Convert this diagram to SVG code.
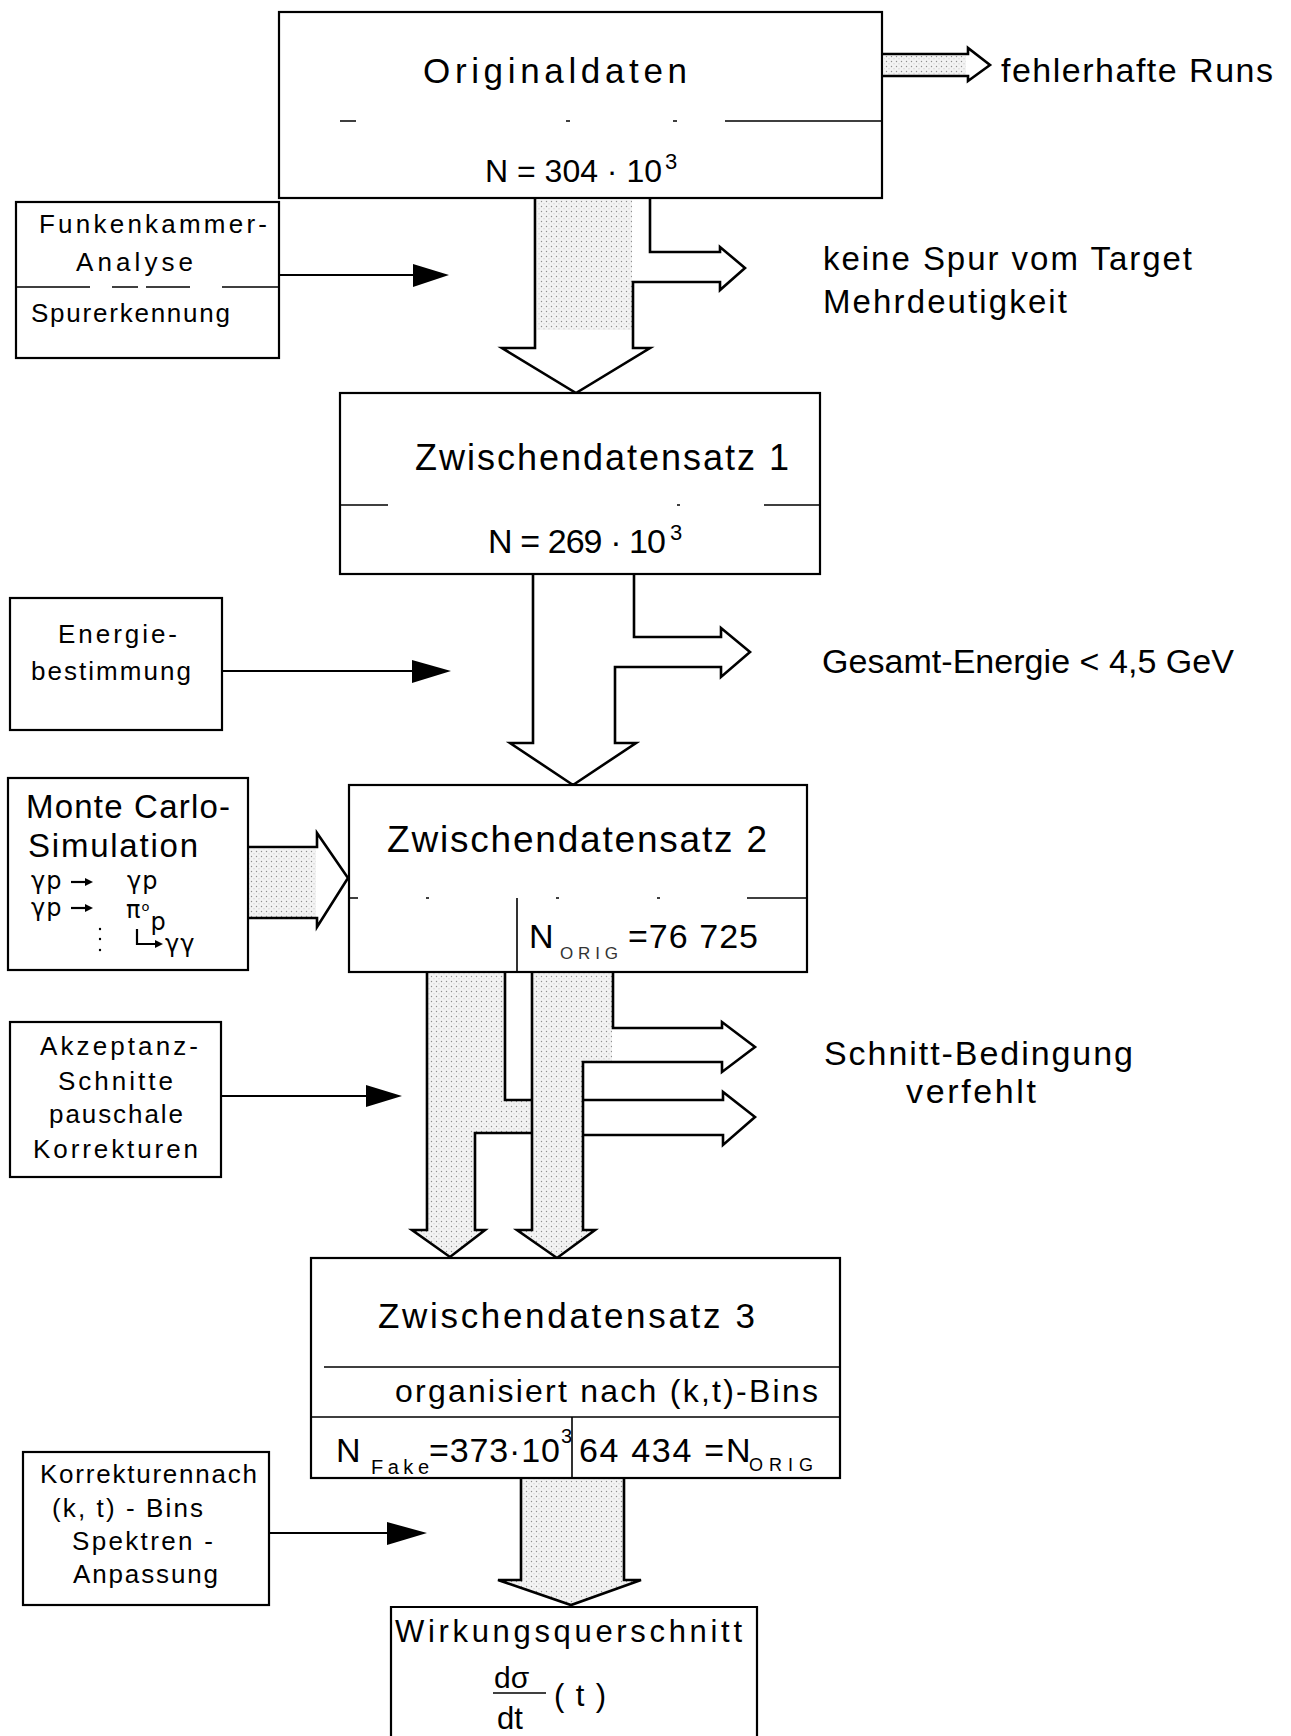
<svg xmlns="http://www.w3.org/2000/svg" width="1291" height="1736" viewBox="0 0 1291 1736">
<defs>
<pattern id="stip" width="5" height="5" patternUnits="userSpaceOnUse"><rect width="5" height="5" fill="#f3f3f3"/><circle cx="1.5" cy="1.5" r="0.7" fill="#8f8f8f"/><circle cx="4" cy="3.8" r="0.5" fill="#b5b5b5"/></pattern>
<style>
.box{fill:#fff;stroke:#000;stroke-width:2.2}
.div{stroke:#000;stroke-width:1.6;fill:none}
.ol{fill:none;stroke:#000;stroke-width:2.6;stroke-linejoin:miter}
.st{fill:url(#stip);stroke:none}
.ln{stroke:#000;stroke-width:2.2;fill:none}
.hd{fill:#000;stroke:none}
text{font-family:"Liberation Sans",Arial,sans-serif;fill:#000}
.g{font-family:"DejaVu Sans","Liberation Sans",sans-serif;font-size:24px}
.t1{font-size:34px}
.t2{font-size:26px}
.sub{fill:#333}
</style>
</defs>
<rect width="1291" height="1736" fill="#fff"/>

<g id="connectors">
  <!-- Originaldaten -> fehlerhafte Runs -->
  <rect class="st" x="884" y="56" width="82" height="19"/>
  <path class="ol" d="M883,54 H968 V48 L990,65 L968,81 V76 H883"/>
  <!-- Originaldaten -> ZDS1 with branch -->
  <rect class="st" x="537" y="200" width="95" height="130"/>
  <path class="ol" d="M535,199 V348 H502 L576,393 L650,348 H633 V282 H720 V290 L745,268 L720,247 V252 H650 V199"/>
  <!-- Funkenkammer arrow -->
  <path class="ln" d="M279,275 H414"/>
  <path class="hd" d="M413,264 L449,275 L413,287 Z"/>
  <!-- ZDS1 -> ZDS2 with branch -->
  <path class="ol" d="M533,574 V743 H510 L573,785 L636,743 H615 V667 H721 V677 L750,652 L721,628 V637 H634 V574"/>
  <!-- Energie arrow -->
  <path class="ln" d="M222,671 H413"/>
  <path class="hd" d="M412,660 L451,671 L412,683 Z"/>
  <!-- Monte Carlo -> ZDS2 -->
  <rect class="st" x="249" y="849" width="67" height="68"/>
  <path class="ol" d="M248,847 H317 V833 L348,878 L317,927 V918 H248"/>
  <!-- ZDS2 -> ZDS3 left (fake) arrow -->
  <path class="st" d="M428,973 H504 V1101 H531 V1132 H474 V1231 H484 L450,1255 L414,1231 H428 Z"/>
  <path class="ol" d="M505,972 V1100 H532 M532,1133 H475 V1230 H485 L450,1257 L412,1230 H427 V972"/>
  <!-- ZDS2 -> ZDS3 right arrow -->
  <path class="st" d="M533,973 H612 V1061 H582 V1231 H593 L557,1256 L519,1231 H533 Z"/>
  <path class="ol" d="M532,972 V1230 H517 L557,1258 L595,1230 H583 V1062 H722 V1072 L755,1047 L722,1022 V1028 H613 V972"/>
  <!-- lower branch -->
  <path class="ol" d="M583,1100 H723 V1092 L755,1117 L723,1145 V1135 H583"/>
  <!-- Akzeptanz arrow -->
  <path class="ln" d="M221,1096 H367"/>
  <path class="hd" d="M366,1085 L402,1096 L366,1107 Z"/>
  <!-- ZDS3 -> Wirkungsquerschnitt -->
  <path class="st" d="M522,1479 H623 V1581 H638 L571,1603 L501,1581 H522 Z"/>
  <path class="ol" d="M521,1478 V1580 H498 L571,1605 L641,1580 H624 V1478"/>
  <!-- Korrekturen arrow -->
  <path class="ln" d="M269,1533 H388"/>
  <path class="hd" d="M387,1522 L427,1533 L387,1545 Z"/>
</g>

<g id="originaldaten">
  <rect class="box" x="279" y="12" width="603" height="186"/>
  <path class="div" d="M340,121 H356 M566,121 H570 M673,121 H677 M725,121 H882"/>
  <text x="423" y="83" font-size="35" textLength="264" lengthAdjust="spacing">Originaldaten</text>
  <text x="485" y="182" font-size="32" textLength="177" lengthAdjust="spacing">N = 304 · 10</text>
  <text x="665" y="169" font-size="22">3</text>
</g>

<g id="fehlerhafte">
  <text class="t1" x="1001" y="82" textLength="272" lengthAdjust="spacing">fehlerhafte Runs</text>
</g>

<g id="funkenkammer">
  <rect class="box" x="16" y="202" width="263" height="156"/>
  <path class="div" d="M16,287 H90 M112,287 H138 M146,287 H190 M222,287 H279"/>
  <text class="t2" x="39" y="233" textLength="228" lengthAdjust="spacing">Funkenkammer-</text>
  <text class="t2" x="76" y="271" textLength="117" lengthAdjust="spacing">Analyse</text>
  <text class="t2" x="31" y="322" textLength="199" lengthAdjust="spacing">Spurerkennung</text>
</g>

<g id="keine-spur">
  <text x="823" y="270" font-size="33" textLength="369" lengthAdjust="spacing">keine Spur vom Target</text>
  <text x="823" y="313" font-size="33" textLength="244" lengthAdjust="spacing">Mehrdeutigkeit</text>
</g>

<g id="zds1">
  <rect class="box" x="340" y="393" width="480" height="181"/>
  <path class="div" d="M340,505 H388 M677,505 H680 M764,505 H820"/>
  <text x="415" y="470" font-size="36" textLength="374" lengthAdjust="spacing">Zwischendatensatz 1</text>
  <text x="488" y="553" font-size="34" textLength="178" lengthAdjust="spacing">N = 269 · 10</text>
  <text x="670" y="540" font-size="22">3</text>
</g>

<g id="energie">
  <rect class="box" x="10" y="598" width="212" height="132"/>
  <text class="t2" x="58" y="643" textLength="119" lengthAdjust="spacing">Energie-</text>
  <text class="t2" x="31" y="680" textLength="160" lengthAdjust="spacing">bestimmung</text>
</g>

<g id="gesamt-energie">
  <text x="822" y="673" font-size="34" textLength="412" lengthAdjust="spacing">Gesamt-Energie &lt; 4,5 GeV</text>
</g>

<g id="monte-carlo">
  <rect class="box" x="8" y="778" width="240" height="192"/>
  <text x="26" y="818" font-size="33" textLength="204" lengthAdjust="spacing">Monte Carlo-</text>
  <text x="28" y="857" font-size="33" textLength="170" lengthAdjust="spacing">Simulation</text>
  <text class="g" x="31" y="889">γ<tspan dx="1">p</tspan></text>
  <path class="ln" d="M71,882 H86" stroke-width="1.6"/>
  <path class="hd" d="M85,878 L93,882 L85,886 Z"/>
  <text class="g" x="127" y="889">γ<tspan dx="1">p</tspan></text>
  <text class="g" x="31" y="916">γ<tspan dx="1">p</tspan></text>
  <path class="ln" d="M71,908 H86" stroke-width="1.6"/>
  <path class="hd" d="M85,904 L93,908 L85,912 Z"/>
  <text class="g" x="126" y="918" font-size="20">π<tspan font-size="13" dx="1" dy="-7">o</tspan><tspan font-size="24" dx="1" dy="19">p</tspan></text>
  <path class="ln" d="M137,929 V944 H156" stroke-width="1.6"/>
  <path class="hd" d="M155,940 L163,944 L155,948 Z"/>
  <text class="g" x="165" y="952">γ<tspan dx="1">γ</tspan></text>
  <circle cx="100" cy="929" r="1.2" fill="#000"/>
  <circle cx="100" cy="939" r="1.2" fill="#000"/>
  <circle cx="100" cy="950" r="1.2" fill="#000"/>
</g>

<g id="zds2">
  <rect class="box" x="349" y="785" width="458" height="187"/>
  <path class="div" d="M349,898 H358 M426,898 H429 M556,898 H559 M657,898 H660 M747,898 H807 M517,898 V972"/>
  <text x="387" y="852" font-size="37" textLength="380" lengthAdjust="spacing">Zwischendatensatz 2</text>
  <text x="529" y="948" font-size="34">N</text>
  <text class="sub" x="560" y="959" font-size="17" textLength="58" lengthAdjust="spacing">ORIG</text>
  <text x="628" y="948" font-size="34" textLength="130" lengthAdjust="spacing">=76 725</text>
</g>

<g id="akzeptanz">
  <rect class="box" x="10" y="1022" width="211" height="155"/>
  <text class="t2" x="40" y="1055" textLength="158" lengthAdjust="spacing">Akzeptanz-</text>
  <text class="t2" x="58" y="1090" textLength="115" lengthAdjust="spacing">Schnitte</text>
  <text class="t2" x="49" y="1123" textLength="134" lengthAdjust="spacing">pauschale</text>
  <text class="t2" x="33" y="1158" textLength="165" lengthAdjust="spacing">Korrekturen</text>
</g>

<g id="schnitt-bedingung">
  <text class="t1" x="824" y="1065" textLength="309" lengthAdjust="spacing">Schnitt-Bedingung</text>
  <text class="t1" x="906" y="1103" textLength="130" lengthAdjust="spacing">verfehlt</text>
</g>

<g id="zds3">
  <rect class="box" x="311" y="1258" width="529" height="220"/>
  <path class="div" d="M324,1367 H840 M311,1417 H840 M572,1417 V1478"/>
  <text x="378" y="1328" font-size="35" textLength="377" lengthAdjust="spacing">Zwischendatensatz 3</text>
  <text x="395" y="1402" font-size="32" textLength="423" lengthAdjust="spacing">organisiert nach (k,t)-Bins</text>
  <text x="336" y="1462" font-size="34">N</text>
  <text x="371" y="1474" font-size="20" textLength="58" lengthAdjust="spacing">Fake</text>
  <text x="429" y="1462" font-size="34" textLength="131" lengthAdjust="spacing">=373·10</text>
  <text x="561" y="1443" font-size="20">3</text>
  <text x="579" y="1462" font-size="34" textLength="145" lengthAdjust="spacing">64 434 =</text>
  <text x="726" y="1462" font-size="34">N</text>
  <text x="749" y="1471" font-size="18" textLength="64" lengthAdjust="spacing">ORIG</text>
</g>

<g id="korrekturen">
  <rect class="box" x="23" y="1452" width="246" height="153"/>
  <text class="t2" x="40" y="1483" textLength="217" lengthAdjust="spacing">Korrekturennach</text>
  <text class="t2" x="52" y="1517" textLength="151" lengthAdjust="spacing">(k, t) - Bins</text>
  <text class="t2" x="72" y="1550" textLength="141" lengthAdjust="spacing">Spektren -</text>
  <text class="t2" x="73" y="1583" textLength="145" lengthAdjust="spacing">Anpassung</text>
</g>

<g id="wirkungsquerschnitt">
  <path class="box" d="M391,1736 V1607 H757 V1736"/>
  <text x="395" y="1642" font-size="31" textLength="347" lengthAdjust="spacing">Wirkungsquerschnitt</text>
  <text x="494" y="1688" font-size="30">dσ</text>
  <path class="div" stroke-width="2.2" d="M493,1693 H546"/>
  <text x="497" y="1729" font-size="31">dt</text>
  <text x="554" y="1706" font-size="31" textLength="52" lengthAdjust="spacing">(t)</text>
</g>
</svg>
